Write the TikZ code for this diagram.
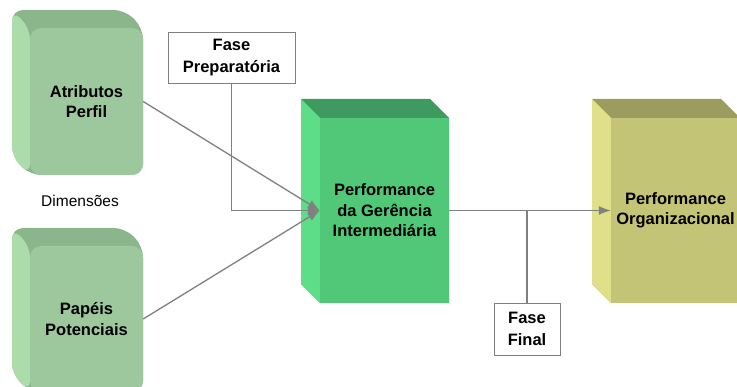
\documentclass[tikz,border=0pt]{standalone}
\usepackage{fontspec}
\setmainfont{Liberation Sans}
\usetikzlibrary{arrows.meta}
\definecolor{sgFront}{RGB}{157,199,157}
\definecolor{sgLeft}{RGB}{172,219,172}
\definecolor{sgTop}{RGB}{139,181,139}
\definecolor{mgFront}{RGB}{80,200,120}
\definecolor{mgLeft}{RGB}{93,221,136}
\definecolor{mgTop}{RGB}{62,154,94}
\definecolor{olFront}{RGB}{196,196,119}
\definecolor{olLeft}{RGB}{224,224,138}
\definecolor{olTop}{RGB}{156,156,95}
\definecolor{lineGray}{RGB}{128,128,128}
% #1 fx0 #2 fy0 #3 fx1 #4 fy1 #5 depth #6 front #7 left #8 top #9 corner style
\newcommand\extbox[9]{%
  \fill[#8,#9] (#1-#5,#2-#5) -- (#3-#5,#2-#5) -- (#3,#2) -- (#3,#4) -- (#1,#4) -- (#1-#5,#4-#5) -- cycle;
  \fill[#7,#9] (#1-#5,#2-#5) -- (#1,#2) -- (#1,#4) -- (#1-#5,#4-#5) -- cycle;
  \fill[#6,#9] (#1,#2) rectangle (#3,#4);
}
\tikzset{
  lbl/.style={align=center, inner sep=0pt, font=\fontsize{16.5}{20.5}\selectfont\bfseries},
  phase/.style={draw=lineGray, line width=0.9pt, fill=white, align=center, inner sep=0pt,
    font=\fontsize{16.5}{21.5}\selectfont\bfseries},
  conn/.style={draw=lineGray, line width=1.3pt, -{Latex[length=12pt,width=9pt]}},
  plain/.style={draw=lineGray, line width=1.3pt}
}
\begin{document}
\begin{tikzpicture}[x=1pt,y=-1pt]
\useasboundingbox (0,0) rectangle (737,387);
% boxes
\extbox{30}{28}{143}{175}{18}{sgFront}{sgLeft}{sgTop}{rounded corners=11pt}
\extbox{30}{246}{143}{392}{18}{sgFront}{sgLeft}{sgTop}{rounded corners=11pt}
\extbox{320}{118}{449}{303}{19}{mgFront}{mgLeft}{mgTop}{sharp corners}
\extbox{611}{118}{740}{303}{19}{olFront}{olLeft}{olTop}{sharp corners}
% text nodes sized as front faces
\node[lbl, minimum width=113pt, minimum height=147pt] (atr) at (86.5,101.5) {Atributos\\Perfil};
\node[lbl, minimum width=113pt, minimum height=146pt] (pap) at (86.5,319) {Papéis\\Potenciais};
\node[lbl, minimum width=129pt, minimum height=185pt] (mid) at (384.5,210.5) {Performance\\da Gerência\\Intermediária};
\node[lbl, minimum width=129pt, minimum height=185pt] (org) at (675.5,210.5) {Performance\\Organizacional};
\node[font=\fontsize{15.5}{18}\selectfont] (dim) at (80,201) {Dimensões};
\node[phase, minimum width=127pt, minimum height=51pt] (prep) at (231.5,57.5) {Fase\\Preparatória};
\node[phase, minimum width=66pt, minimum height=52pt] (fin) at (527,329) {Fase\\Final};
% connectors
\draw[conn] (atr.east) -- (mid.west);
\draw[conn] (pap.east) -- (mid.west);
\draw[conn] (prep.south) |- (mid.west);
\draw[conn] (mid.east) -- (org.west);
\draw[plain] (fin.north) -- (fin.north |- mid.east);
\end{tikzpicture}
\end{document}
